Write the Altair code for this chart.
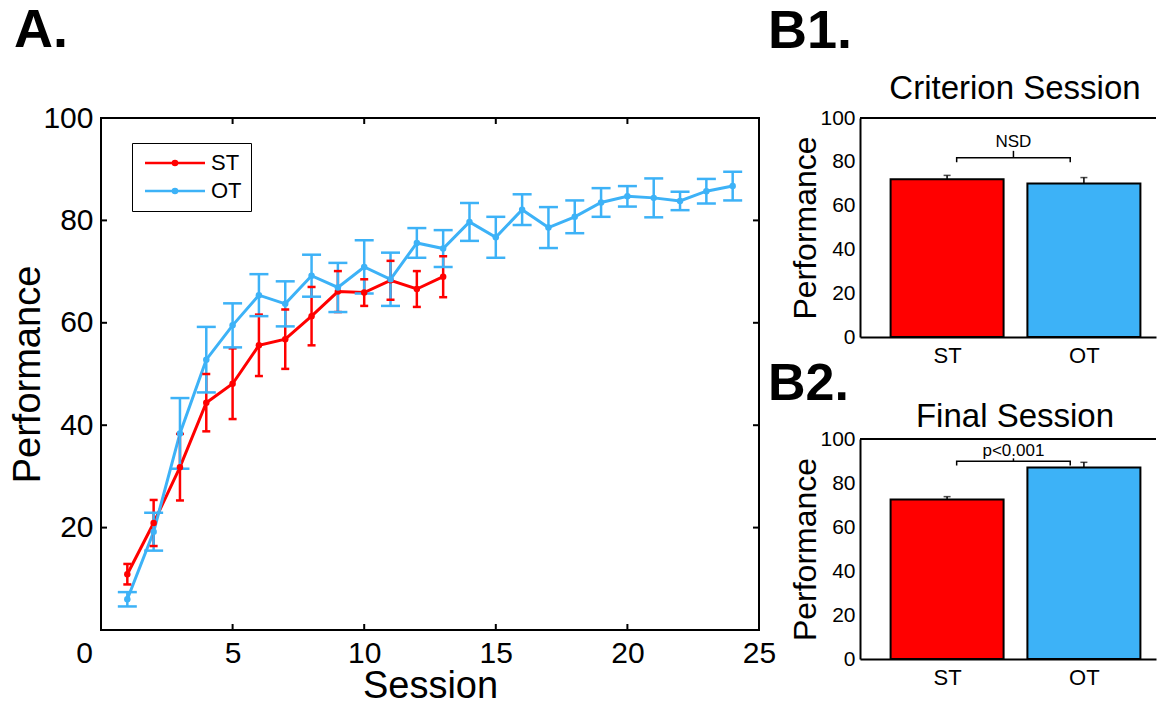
import altair as alt
import pandas as pd

FONT = "Liberation Sans"

# ---------------- data ----------------
series_names = ["ST", "OT"]
series_colors = ["#FF0000", "#3DB2F7"]
cap_widths = [8, 19]

st_session = list(range(1, 14))
st_mean = [10.9, 20.9, 31.8, 44.4, 48.1, 55.6, 56.8, 61.3, 66.1, 65.9, 68.3, 66.6, 69.0]
st_sem = [2.0, 4.5, 6.5, 5.6, 6.9, 6.0, 5.8, 5.7, 4.0, 2.6, 3.8, 3.5, 4.0]

ot_session = list(range(1, 25))
ot_mean = [6.0, 19.2, 38.4, 52.8, 59.5, 65.4, 63.7, 69.2, 66.9, 70.9, 68.5, 75.6,
           74.5, 79.7, 76.7, 82.1, 78.6, 80.7, 83.5, 84.7, 84.4, 83.8, 85.7, 86.7]
ot_sem = [1.4, 3.7, 6.9, 6.4, 4.3, 4.1, 4.4, 4.1, 4.8, 5.2, 5.2, 2.9,
          3.6, 3.7, 4.0, 3.0, 4.0, 3.2, 2.8, 2.0, 3.8, 1.8, 2.4, 2.8]

x_ticks = [0, 5, 10, 15, 20, 25]
y_ticks = [20, 40, 60, 80, 100]
x_inner_ticks = [5, 10, 15, 20]
y_inner_ticks = [20, 40, 60, 80]

groups = ["ST", "OT"]
bar_colors = ["#FF0000", "#40B0FF"]
crit_mean = [72.0, 70.1]
crit_sem = [1.8, 2.7]
final_mean = [72.5, 87.1]
final_sem = [1.3, 2.3]
bar_y_ticks = [0, 20, 40, 60, 80, 100]

# significance brackets: left x, right x, level, drop, tick top, label baseline
crit_sig = {"label": "NSD", "x": [1.07, 1.90], "level": 81.8, "low": 79.8, "top": 85.0, "text_y": 86.8}
final_sig = {"label": "p<0.001", "x": [1.07, 1.90], "level": 89.9, "low": 87.9, "top": 91.2, "text_y": 92.1}

# ---------------- main panel ----------------
rows = []
for name, ss, mm, ee in [("ST", st_session, st_mean, st_sem), ("OT", ot_session, ot_mean, ot_sem)]:
    for s, m, e in zip(ss, mm, ee):
        rows.append({"series": name, "session": s, "mean": m, "lo": m - e, "hi": m + e})
df = pd.DataFrame(rows)

W, H = 658, 512

xscale = alt.Scale(domain=[0, 25], nice=False, zero=False)
yscale = alt.Scale(domain=[0, 100], nice=False)
cscale = alt.Scale(domain=series_names, range=series_colors)

# legend glyph: a line segment with a dot in the middle
legend_symbol = "M-3.8,0L8.2,0M2.6,0A0.4,0.4,0,1,1,1.8,0A0.4,0.4,0,1,1,2.6,0"

x_enc = alt.X("session:Q", scale=xscale,
              axis=alt.Axis(values=x_ticks, title="Session", domain=False, ticks=False, grid=False,
                            labelFontSize=30, titleFontSize=38, labelPadding=8, titlePadding=29,
                            titleBaseline="alphabetic", labelFlush=False,
                            labelOffset={"condition": {"test": "datum.value === 0", "value": -17}, "value": 0}))
y_enc = alt.Y("mean:Q", scale=yscale,
              axis=alt.Axis(values=y_ticks, title="Performance", domain=False, ticks=False, grid=False,
                            labelFontSize=30, titleFontSize=38, labelPadding=8, titlePadding=-5))

color_leg = alt.Color("series:N", scale=cscale,
                      legend=alt.Legend(title=None, orient="none", legendX=31, legendY=25,
                                        strokeColor="black", fillColor="white", padding=9,
                                        labelFontSize=22, labelFont=FONT, labelColor="black",
                                        labelExpr="datum.label + '  '",
                                        symbolType=legend_symbol, symbolSize=100, symbolOffset=12,
                                        symbolStrokeWidth=2.6, labelOffset=36, rowPadding=6,
                                        symbolOpacity=1))
color_plain = alt.Color("series:N", scale=cscale)

lines = alt.Chart(df).mark_line(strokeWidth=3).encode(x=x_enc, y=y_enc, color=color_leg)
errs = alt.Chart(df).mark_rule(strokeWidth=2.5).encode(
    x="session:Q", y="lo:Q", y2="hi:Q", color=color_plain)
cap_layers = []
for name, cw in zip(series_names, cap_widths):
    cap_layers.append(
        alt.Chart(df).transform_filter(alt.datum.series == name)
        .transform_fold(["lo", "hi"], as_=["which", "cap"])
        .mark_tick(orient="horizontal", thickness=2.5, size=cw, opacity=1)
        .encode(x="session:Q", y=alt.Y("cap:Q"), color=color_plain))
points = alt.Chart(df).mark_point(filled=True, size=42, opacity=1).encode(
    x="session:Q", y="mean:Q", color=color_plain)

xt = pd.DataFrame({"session": x_inner_ticks})
yt = pd.DataFrame({"mean": y_inner_ticks})
tick_b = alt.Chart(xt).mark_rule(color="black", strokeWidth=2).encode(
    x="session:Q", y=alt.value(H), y2=alt.value(H - 6))
tick_t = alt.Chart(xt).mark_rule(color="black", strokeWidth=2).encode(
    x="session:Q", y=alt.value(0), y2=alt.value(6))
tick_l = alt.Chart(yt).mark_rule(color="black", strokeWidth=2).encode(
    y="mean:Q", x=alt.value(0), x2=alt.value(6))
tick_r = alt.Chart(yt).mark_rule(color="black", strokeWidth=2).encode(
    y="mean:Q", x=alt.value(W - 6), x2=alt.value(W))

letter_a = alt.Chart(pd.DataFrame({"label": ["A."]})).mark_text(
    align="left", baseline="top", fontSize=54, fontWeight="bold", font=FONT, color="black").encode(
    x=alt.value(-87), y=alt.value(-114.5), text="label:N")

main = alt.layer(lines, errs, *cap_layers, points, tick_b, tick_t, tick_l, tick_r, letter_a).properties(
    width=W, height=H, view=alt.ViewBackground(stroke="black", strokeWidth=2))

# ---------------- bar panels ----------------
BW = 296
XMAX = 0.4 + BW / 141.6


def bar_panel(means, sems, title, letter, sig, height, letter_y, letter_size, title_y):
    d = pd.DataFrame({"group": groups, "pos": [i + 1 for i in range(len(groups))],
                      "mean": means, "top": [m + s for m, s in zip(means, sems)]})
    bx = alt.X("pos:Q", scale=alt.Scale(domain=[0.4, XMAX], nice=False, zero=False),
               axis=alt.Axis(values=[1, 2], labelExpr="['%s','%s'][datum.value-1]" % tuple(groups),
                             title=None, domain=True, domainColor="black", domainWidth=2,
                             ticks=False, grid=False, labelFontSize=22, labelPadding=8))
    by = alt.Y("mean:Q", scale=alt.Scale(domain=[0, 100], nice=False),
               axis=alt.Axis(values=bar_y_ticks, title="Performance", domain=True, domainColor="black",
                             domainWidth=2, ticks=False, grid=False, labelFontSize=21, labelPadding=5,
                             titleFontSize=32, titlePadding=-3))
    bars = alt.Chart(d).mark_bar(width=113, stroke="black", strokeWidth=2, opacity=1).encode(
        x=bx, y=by, color=alt.Color("group:N", scale=alt.Scale(domain=groups, range=bar_colors), legend=None))
    top_line = alt.Chart(d.head(1)).mark_rule(color="black", strokeWidth=2).encode(
        x=alt.value(0), x2=alt.value(BW), y=alt.value(0))
    err = alt.Chart(d).mark_rule(color="black", strokeWidth=1.5).encode(x="pos:Q", y="mean:Q", y2="top:Q")
    cap = alt.Chart(d).mark_tick(orient="horizontal", size=7, thickness=1.5, color="black").encode(
        x="pos:Q", y=alt.Y("top:Q"))
    br = pd.DataFrame({"pos": [sig["x"][0], sig["x"][0], sig["x"][1], sig["x"][1]],
                       "mean": [sig["low"], sig["level"], sig["level"], sig["low"]],
                       "order": [0, 1, 2, 3]})
    bracket = alt.Chart(br).mark_line(color="black", strokeWidth=1.5).encode(
        x="pos:Q", y="mean:Q", order="order:O")
    mid = (sig["x"][0] + sig["x"][1]) / 2
    bt = pd.DataFrame({"pos": [mid], "mean": [sig["level"]], "top": [sig["top"]],
                       "ty": [sig["text_y"]], "label": [sig["label"]]})
    btick = alt.Chart(bt).mark_rule(color="black", strokeWidth=1.5).encode(x="pos:Q", y="mean:Q", y2="top:Q")
    btext = alt.Chart(bt).mark_text(fontSize=17, baseline="alphabetic", font=FONT, color="black").encode(
        x="pos:Q", y="ty:Q", text="label:N")
    let = alt.Chart(pd.DataFrame({"label": [letter]})).mark_text(
        align="left", baseline="top", fontSize=letter_size, fontWeight="bold", font=FONT, color="black").encode(
        x=alt.value(-92), y=alt.value(letter_y), text="label:N")
    ttl = alt.Chart(pd.DataFrame({"label": [title]})).mark_text(
        align="center", baseline="alphabetic", fontSize=33, font=FONT, color="black").encode(
        x=alt.value(BW / 2 + 7), y=alt.value(title_y), text="label:N")
    return alt.layer(bars, top_line, err, cap, bracket, btick, btext, let, ttl).properties(
        width=BW, height=height, view=alt.ViewBackground(stroke=None))


b1 = bar_panel(crit_mean, crit_sem, "Criterion Session", "B1.", crit_sig, 219, -113, 54, -19)
b2 = bar_panel(final_mean, final_sem, "Final Session", "B2.", final_sig, 220, -79.7, 52, -11.7)

right = alt.vconcat(b1, b2, spacing=-8)
chart = alt.hconcat(main, right, spacing=-9).properties(
    padding={"left": 0, "top": -6, "right": 0, "bottom": -7}).configure_axis(
    labelFont=FONT, titleFont=FONT, labelColor="black", titleColor="black", titleFontWeight="normal"
).configure_view(stroke=None)

chart.save("out.html", embed_options={"renderer": "svg", "actions": False})
